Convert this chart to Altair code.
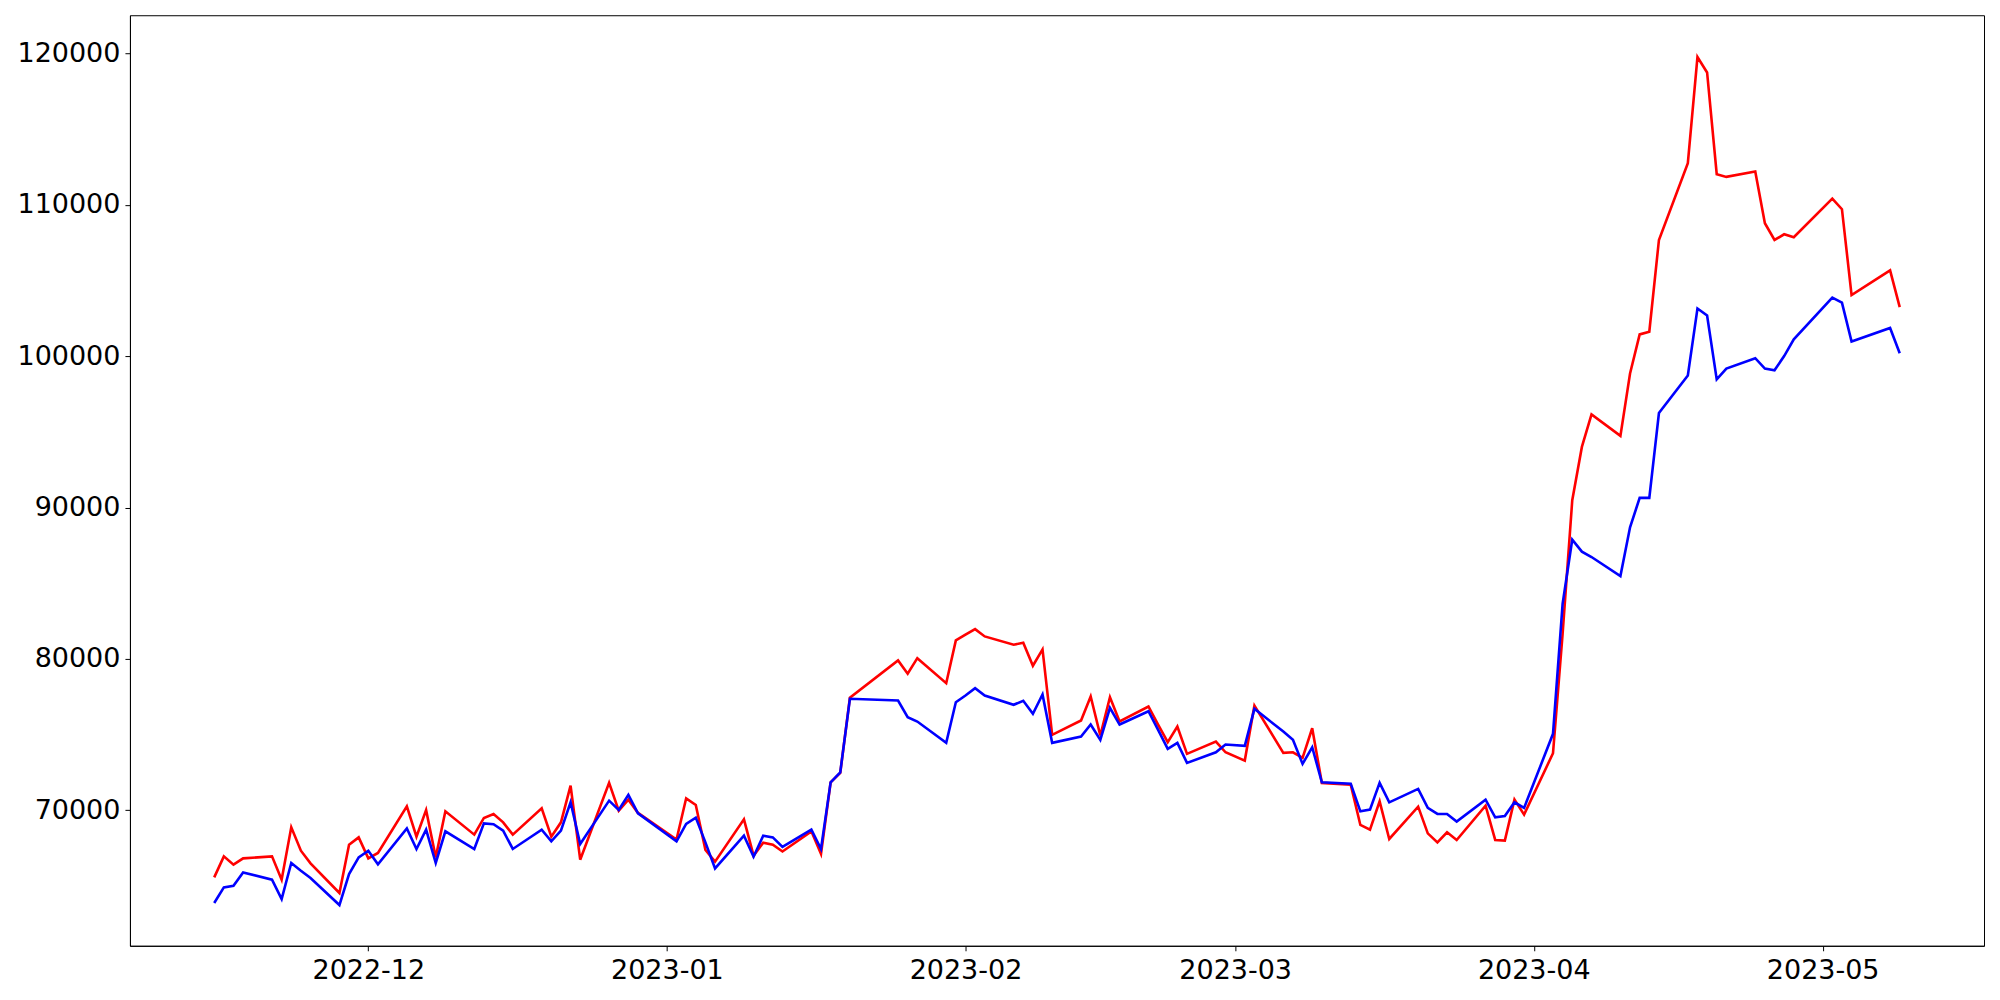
import altair as alt
import pandas as pd

dates = [
    "2022-11-15", "2022-11-16", "2022-11-17", "2022-11-18",
    "2022-11-21", "2022-11-22", "2022-11-23", "2022-11-24", "2022-11-25",
    "2022-11-28", "2022-11-29", "2022-11-30", "2022-12-01", "2022-12-02",
    "2022-12-05", "2022-12-06", "2022-12-07", "2022-12-08", "2022-12-09",
    "2022-12-12", "2022-12-13", "2022-12-14", "2022-12-15", "2022-12-16",
    "2022-12-19", "2022-12-20", "2022-12-21", "2022-12-22", "2022-12-23",
    "2022-12-26", "2022-12-27", "2022-12-28", "2022-12-29",
    "2023-01-02", "2023-01-03", "2023-01-04", "2023-01-05", "2023-01-06",
    "2023-01-09", "2023-01-10", "2023-01-11", "2023-01-12", "2023-01-13",
    "2023-01-16", "2023-01-17", "2023-01-18", "2023-01-19", "2023-01-20",
    "2023-01-25", "2023-01-26", "2023-01-27",
    "2023-01-30", "2023-01-31", "2023-02-01", "2023-02-02", "2023-02-03",
    "2023-02-06", "2023-02-07", "2023-02-08", "2023-02-09", "2023-02-10",
    "2023-02-13", "2023-02-14", "2023-02-15", "2023-02-16", "2023-02-17",
    "2023-02-20", "2023-02-21", "2023-02-22", "2023-02-23", "2023-02-24",
    "2023-02-27", "2023-02-28", "2023-03-02", "2023-03-03",
    "2023-03-06", "2023-03-07", "2023-03-08", "2023-03-09", "2023-03-10",
    "2023-03-13", "2023-03-14", "2023-03-15", "2023-03-16", "2023-03-17",
    "2023-03-20", "2023-03-21", "2023-03-22", "2023-03-23", "2023-03-24",
    "2023-03-27", "2023-03-28", "2023-03-29", "2023-03-30", "2023-03-31",
    "2023-04-03", "2023-04-04", "2023-04-05", "2023-04-06", "2023-04-07",
    "2023-04-10", "2023-04-11", "2023-04-12", "2023-04-13", "2023-04-14",
    "2023-04-17", "2023-04-18", "2023-04-19", "2023-04-20", "2023-04-21",
    "2023-04-24", "2023-04-25", "2023-04-26", "2023-04-27", "2023-04-28",
    "2023-05-02", "2023-05-03", "2023-05-04",
    "2023-05-08", "2023-05-09",
]

red_values = [
    65569, 66958, 66408, 66825,
    66958, 65416, 68876, 67334, 66500,
    64537, 67731, 68214, 66825, 67182,
    70265, 68261, 70026, 66892, 69934,
    68393, 69497, 69762, 69206, 68393,
    70132, 68261, 69206, 71634, 66739,
    71812, 69980, 70708, 69828,
    68062, 70794, 70357, 67381, 66607,
    69405, 67004, 67864, 67731, 67280,
    68611, 67116, 71852, 72474, 77434,
    79901, 79021, 80053,
    78400, 81224, 81601, 81972, 81489,
    80940, 81072, 79551, 80629, 74987,
    75933, 77520, 74941, 77474, 75867,
    76859, 75668, 74498, 75536, 73730,
    74544, 73836, 73287, 76925,
    73796, 73836, 73466, 75424, 71812,
    71700, 69034, 68723, 70595, 68108,
    70245, 68479, 67883, 68545, 68042,
    70311, 68042, 67996, 70708, 69716,
    73770, 81667, 90484, 94009, 96160,
    94737, 98863, 101443, 101616, 107680,
    112753, 119765, 118745, 112025, 111847,
    112198, 108784, 107680, 108057, 107858,
    110413, 109711, 104042,
    105676, 103248,
]

blue_values = [
    63875, 64907, 65019, 65899,
    65416, 64140, 66521, 66011, 65530,
    63743, 65790, 66892, 67334, 66430,
    68810, 67444, 68722, 66521, 68611,
    67444, 69140, 69080, 68657, 67447,
    68723, 67950, 68657, 70529, 67778,
    70640, 70026, 71018, 69801,
    67950, 69100, 69517, 67883, 66164,
    68327, 66938, 68327, 68214, 67580,
    68723, 67447, 71852, 72513, 77368,
    77256, 76151, 75866,
    74458, 77143, 77586, 78069, 77586,
    76971, 77236, 76376, 77652, 74458,
    74874, 75668, 74656, 76772, 75668,
    76548, 75318, 74061, 74458, 73134,
    73836, 74345, 74260, 76707,
    75205, 74656, 73069, 74167, 71852,
    71760, 69934, 70046, 71812, 70529,
    71415, 70159, 69762, 69762, 69253,
    70708, 69537, 69630, 70529, 70159,
    75053, 83651, 87884, 87091, 86734,
    85477, 88700, 90640, 90640, 96250,
    98730, 103150, 102693, 98473, 99181,
    99869, 99181, 99068, 100008, 101113,
    103870, 103539, 100974,
    101867, 100200,
]

y_ticks = [70000, 80000, 90000, 100000, 110000, 120000]
x_tick_months = [(2022, 12), (2023, 1), (2023, 2), (2023, 3), (2023, 4), (2023, 5)]

df = pd.DataFrame({"date": dates, "red": red_values, "blue": blue_values})

x_enc = alt.X(
    "date:T",
    scale=alt.Scale(
        type="utc",
        nice=False,
        domain=[
            alt.DateTime(year=2022, month=11, date=6, hours=6, utc=True),
            alt.DateTime(year=2023, month=5, date=17, hours=18, utc=True),
        ],
    ),
    axis=alt.Axis(
        values=[alt.DateTime(year=yy, month=mm, date=1, utc=True) for yy, mm in x_tick_months],
        labelExpr="utcFormat(datum.value, '%Y-%m')",
        title=None,
        grid=False,
        labelFlush=False,
        labelOverlap=False,
        labelPadding=7,
    ),
)

y_scale = alt.Scale(domain=[61052, 122526], nice=False, zero=False)
y_axis = alt.Axis(values=y_ticks, format="d", title=None, grid=False, labelOverlap=False)

base = alt.Chart(df)
red_line = base.mark_line(color="#ff0000", strokeWidth=2.6).encode(
    x=x_enc, y=alt.Y("red:Q", scale=y_scale, axis=y_axis)
)
blue_line = base.mark_line(color="#0000ff", strokeWidth=2.6).encode(
    x=x_enc, y=alt.Y("blue:Q", scale=y_scale, axis=y_axis)
)

chart = (
    alt.layer(red_line, blue_line)
    .properties(
        width=1855,
        height=931,
        autosize=alt.AutoSizeParams(type="none"),
        padding={"left": 122, "top": 7, "right": 8, "bottom": 50},
        background="white",
    )
    .configure_view(stroke="black", strokeWidth=1)
    .configure_axis(
        domainColor="black",
        domainWidth=1,
        tickColor="black",
        tickWidth=1,
        tickSize=5,
        labelColor="black",
        labelFont="DejaVu Sans",
        labelFontSize=27,
        labelPadding=5,
    )
)

chart.save("out.html", embed_options={"renderer": "svg", "actions": False})
